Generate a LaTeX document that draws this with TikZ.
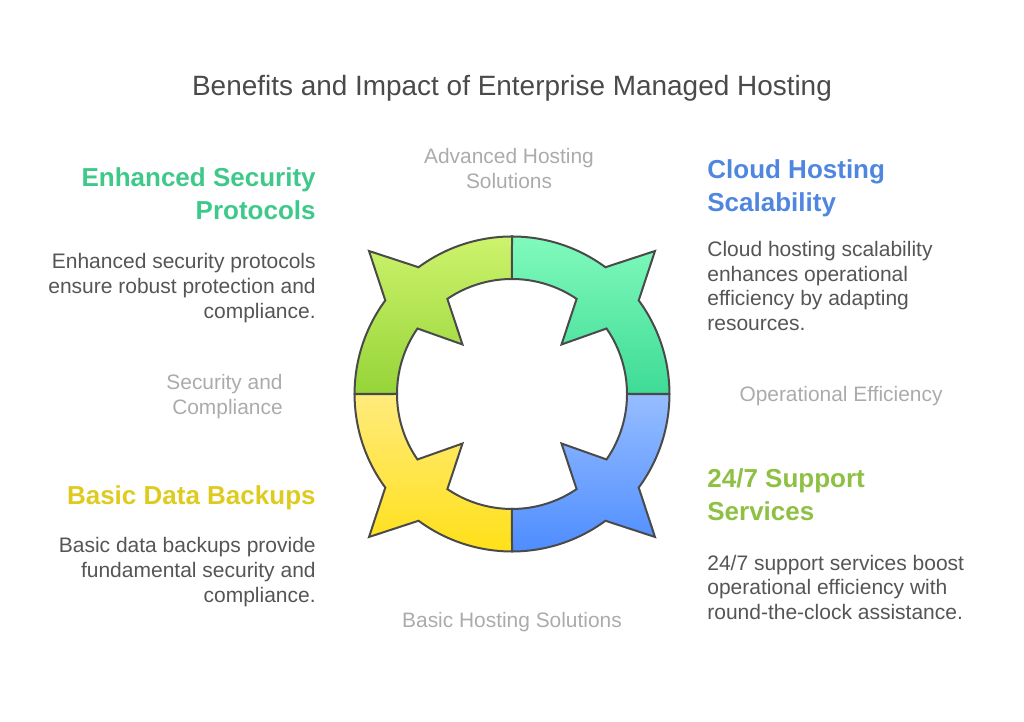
\documentclass[tikz,border=0pt]{standalone}
\usepackage{fontspec}
\setmainfont{Liberation Sans}
\definecolor{titlegray}{HTML}{4A4A4A}
\definecolor{bodygray}{HTML}{555555}
\definecolor{notegray}{HTML}{ABABAB}
\definecolor{edgegray}{HTML}{4A4A4A}
\definecolor{headgreen}{HTML}{3EC98B}
\definecolor{headblue}{HTML}{4F86E0}
\definecolor{headyellow}{HTML}{DFCB1F}
\definecolor{headlime}{HTML}{8EC044}
\tikzset{
    headtext/.style={font=\fontsize{14.8}{18.8}\selectfont\bfseries, inner sep=0pt},
    bodytext/.style={font=\fontsize{11.95}{14.2}\selectfont, text=bodygray, inner sep=0pt},
    notetext/.style={font=\fontsize{11.9}{14.2}\selectfont, text=notegray, inner sep=0pt},
    petal/.style={draw=edgegray, line width=0.04cm, line join=miter}
}
\newcommand{\petalpath}{(0,157.5) arc (90:126.4:157.5) -- (-143,143) -- (-126.7,93.6) arc (143.6:180:157.5) -- (-115,0) arc (180:145.3:115) -- (-49.5,49.5) -- (-64.6,95.1) arc (124.2:90:115) -- cycle}
\begin{document}
\begin{tikzpicture}[x=0.02cm, y=0.02cm]
    \useasboundingbox (0, 0) rectangle (1024, 722);
    \coordinate (ctr) at (512, 328);
    % four ring pieces
    \shade[petal, shift={(ctr)}, top color={rgb,255:red,205;green,243;blue,108}, bottom color={rgb,255:red,150;green,212;blue,56}] \petalpath;
    \shade[petal, shift={(ctr)}, xscale=-1, top color={rgb,255:red,128;green,250;blue,188}, bottom color={rgb,255:red,62;green,219;blue,150}] \petalpath;
    \shade[petal, shift={(ctr)}, yscale=-1, top color={rgb,255:red,255;green,235;blue,125}, bottom color={rgb,255:red,255;green,224;blue,24}] \petalpath;
    \shade[petal, shift={(ctr)}, xscale=-1, yscale=-1, top color={rgb,255:red,150;green,189;blue,255}, bottom color={rgb,255:red,78;green,141;blue,255}] \petalpath;
    % title
    \node[font=\fontsize{15.9}{19}\selectfont, text=titlegray, inner sep=0pt] (title) at (512, 634) {Benefits and Impact of Enterprise Managed Hosting};
    % left column
    \node[headtext, text=headgreen, align=right, anchor=east] (sechead) at (316, 528.5) {Enhanced Security\\Protocols};
    \node[bodytext, align=right, anchor=east] (secbody) at (316, 434) {Enhanced security protocols\\ensure robust protection and\\compliance.};
    \node[headtext, text=headyellow, align=right, anchor=east] (backuphead) at (316, 224) {Basic Data Backups};
    \node[bodytext, align=right, anchor=east] (backupbody) at (316, 150) {Basic data backups provide\\fundamental security and\\compliance.};
    % right column
    \node[headtext, text=headblue, align=left, anchor=west] (cloudhead) at (707, 533.5) {Cloud Hosting\\Scalability};
    \node[bodytext, align=left, anchor=west] (cloudbody) at (707, 436) {Cloud hosting scalability\\enhances operational\\efficiency by adapting\\resources.};
    \node[headtext, text=headlime, align=left, anchor=west] (supporthead) at (707, 227.5) {24/7 Support\\Services};
    \node[bodytext, align=left, anchor=west] (supportbody) at (707, 134.5) {24/7 support services boost\\operational efficiency with\\round-the-clock assistance.};
    % axis labels
    \node[notetext, align=center] (advnote) at (509, 553) {Advanced Hosting\\Solutions};
    \node[notetext, align=right, anchor=east] (secnote) at (283, 325.5) {Security and\\Compliance};
    \node[notetext] (opnote) at (841, 326) {Operational Efficiency};
    \node[notetext] (basicnote) at (512, 100) {Basic Hosting Solutions};
\end{tikzpicture}
\end{document}
